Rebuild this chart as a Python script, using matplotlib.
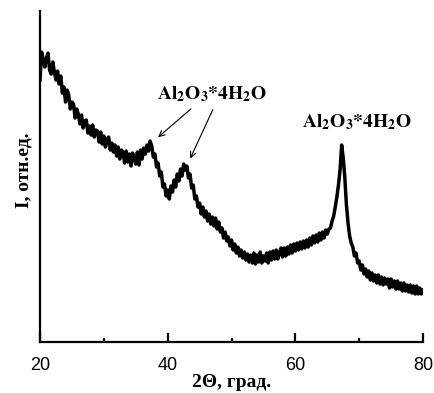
import matplotlib
matplotlib.use('Agg')
import matplotlib.pyplot as plt
import numpy as np

plt.rcParams['mathtext.fontset'] = 'stix'

# scan grid, 2-theta in degrees (step 0.25)
two_theta = np.round(np.arange(20.0, 80.01, 0.25), 2)

# intensity, arbitrary units (4 points per degree)
intensity = [
    262, 290, 283, 275,  284, 289, 272, 268,  280, 270, 262, 271,   # 20-22
    258, 266, 249, 255,  240, 252, 247, 233,  240, 238, 224, 233,   # 23-25
    228, 218, 227, 214,  221, 222, 209, 216,  207, 217, 205, 212,   # 26-28
    211, 200, 210, 198,  206, 195, 203, 205,  192, 199, 190, 197,   # 29-31
    186, 195, 183, 192,  190, 179, 191, 180,  188, 176, 189, 183,   # 32-34
    178, 190, 177, 192,  183, 194, 188, 197,  191, 201, 196, 185,   # 35-37
    188, 175, 179, 166,  170, 155, 158, 146,  152, 143, 156, 150,   # 38-40
    162, 155, 168, 161,  173, 166, 178, 172,  176, 164, 168, 154,   # 41-43
    157, 143, 146, 135,  139, 128, 135, 125,  131, 121, 128, 118,   # 44-46
    125, 116, 124, 113,  120, 110, 114, 104,  110, 101, 105, 96,    # 47-49
    102, 92, 98, 89,     95, 86, 92, 84,      90, 82, 88, 80,       # 50-52
    87, 79, 89, 78,      87, 80, 90, 79,      86, 81, 89, 79,       # 53-55
    90, 82, 91, 83,      92, 83, 89, 94,      85, 94, 86, 95,       # 56-58
    88, 97, 89, 98,      91, 99, 92, 100,     93, 101, 94, 102,     # 59-61
    95, 104, 97, 106,    99, 107, 100, 109,   102, 110, 104, 112,   # 62-64
    108, 113, 114, 121,  126, 135, 145, 157,  172, 197, 184, 164,   # 65-67
    137, 119, 106, 99,   95, 86, 89, 79,      81, 72, 77, 68,       # 68-70
    73, 65, 71, 62,      69, 61, 67, 59,      67, 58, 65, 57,       # 71-73
    64, 58, 63, 54,      63, 55, 61, 53,      61, 53, 59, 51,       # 74-76
    59, 51, 57, 50,      57, 49, 56, 48,      56, 48, 54, 48,       # 77-79
    52,
]

peak_label = r'$\mathbf{Al_2O_3{*}4H_2O}$'

fig = plt.figure(figsize=(4.35, 3.93), dpi=100)
ax = fig.add_axes([0.092, 0.1298, 0.8805, 0.842])

ax.plot(two_theta, intensity, color='black', lw=2.5)

ax.set_xlim(20, 80)
ax.set_ylim(0, 331)
ax.set_xticks([20, 40, 60, 80])
ax.set_xticks([30, 50, 70], minor=True)
ax.set_yticks([])

for s in ['top', 'right']:
    ax.spines[s].set_visible(False)
for s in ['left', 'bottom']:
    ax.spines[s].set_linewidth(1.6)

ax.tick_params(axis='x', which='major', direction='in', length=6.5, width=1.6,
               pad=11, labelsize=13)
ax.tick_params(axis='x', which='minor', direction='in', length=3, width=1.6)
for lab in ax.get_xticklabels():
    lab.set_fontfamily('Liberation Sans')

ax.set_xlabel('2\u0398, град.', family='Liberation Serif', fontweight='bold',
              fontsize=14, labelpad=0)
ax.set_ylabel('I, отн.ед.', family='Liberation Serif', fontweight='bold',
              fontsize=14)
ax.yaxis.set_label_coords(-0.02, 0.52)

# labels with arrows
ax.text(46.95, 243, peak_label, ha='center', va='baseline', fontsize=14)
ax.annotate('', xy=(38.17, 203), xytext=(43.97, 235),
            arrowprops=dict(arrowstyle='->', lw=0.8, color='black'))
ax.annotate('', xy=(43.34, 181), xytext=(47.26, 235),
            arrowprops=dict(arrowstyle='->', lw=0.8, color='black'))
ax.text(69.66, 215, peak_label, ha='center', va='baseline', fontsize=14)

plt.savefig('out.png', dpi=100)
